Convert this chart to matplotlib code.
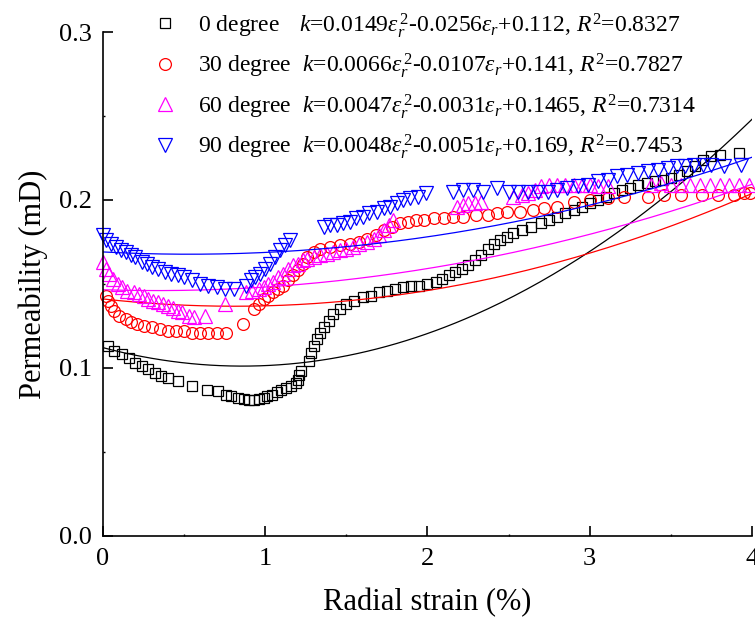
import numpy as np
import matplotlib
matplotlib.use("Agg")
import matplotlib.pyplot as plt

plt.rcParams["font.family"] = ["Liberation Serif", "DejaVu Serif"]
plt.rcParams["mathtext.fontset"] = "custom"
plt.rcParams["mathtext.rm"] = "Liberation Serif"
plt.rcParams["mathtext.it"] = "Liberation Serif:italic"

# 0 degree
x0 = [0.03, 0.07, 0.12, 0.16, 0.20, 0.24, 0.28, 0.32, 0.36, 0.40, 0.46, 0.55, 0.64, 0.71, 0.76, 0.79,
      0.83, 0.87, 0.90, 0.93, 0.96, 0.99, 1.01, 1.04, 1.07, 1.10, 1.13, 1.16, 1.19, 1.20, 1.21, 1.22,
      1.27, 1.28, 1.30, 1.32, 1.34, 1.36, 1.39, 1.42, 1.46, 1.50, 1.55, 1.60, 1.65, 1.70, 1.75, 1.80,
      1.85, 1.90, 1.95, 2.00, 2.05, 2.09, 2.13, 2.17, 2.21, 2.25, 2.29, 2.33, 2.37, 2.41, 2.45, 2.49,
      2.53, 2.58, 2.64, 2.70, 2.75, 2.80, 2.85, 2.90, 2.95, 3.00, 3.05, 3.10, 3.15, 3.20, 3.25, 3.30,
      3.35, 3.40, 3.45, 3.50, 3.55, 3.60, 3.65, 3.70, 3.75, 3.80, 3.92]
y0 = [0.113, 0.110, 0.108, 0.106, 0.103, 0.101, 0.099, 0.097, 0.095, 0.094, 0.092, 0.089, 0.087, 0.086, 0.084, 0.083,
      0.082, 0.0815, 0.081, 0.081, 0.0815, 0.082, 0.083, 0.084, 0.0855, 0.087, 0.088, 0.089, 0.091, 0.093, 0.096, 0.098,
      0.104, 0.109, 0.113, 0.117, 0.121, 0.124, 0.128, 0.132, 0.135, 0.138, 0.140, 0.142, 0.143, 0.145, 0.146, 0.147,
      0.148, 0.149, 0.149, 0.150, 0.151, 0.153, 0.155, 0.157, 0.159, 0.161, 0.164, 0.167, 0.171, 0.174, 0.176, 0.178,
      0.180, 0.182, 0.184, 0.186, 0.188, 0.190, 0.192, 0.194, 0.196, 0.198, 0.200, 0.202, 0.204, 0.206, 0.207, 0.209,
      0.210, 0.211, 0.212, 0.213, 0.215, 0.217, 0.220, 0.224, 0.226, 0.227, 0.228]

# 30 degree
x30 = [0.02, 0.03, 0.05, 0.07, 0.10, 0.14, 0.17, 0.21, 0.25, 0.30, 0.35, 0.40, 0.45, 0.50, 0.55, 0.60,
       0.65, 0.70, 0.76, 0.86, 0.93, 0.96, 0.99, 1.02, 1.05, 1.08, 1.11, 1.14, 1.17, 1.20, 1.23, 1.26,
       1.30, 1.34, 1.40, 1.46, 1.52, 1.58, 1.63, 1.68, 1.73, 1.78, 1.83, 1.88, 1.93, 1.98, 2.04, 2.10,
       2.16, 2.22, 2.30, 2.37, 2.43, 2.49, 2.57, 2.65, 2.72, 2.80, 2.90, 3.00, 3.11, 3.21, 3.36, 3.46,
       3.56, 3.69, 3.79, 3.89, 3.95, 3.99]
y30 = [0.143, 0.140, 0.137, 0.134, 0.131, 0.129, 0.127, 0.126, 0.125, 0.124, 0.123, 0.122, 0.122, 0.122, 0.121, 0.121,
       0.121, 0.121, 0.121, 0.126, 0.135, 0.138, 0.141, 0.143, 0.145, 0.147, 0.149, 0.152, 0.155, 0.158, 0.162, 0.166,
       0.169, 0.171, 0.172, 0.173, 0.174, 0.175, 0.177, 0.179, 0.182, 0.184, 0.186, 0.187, 0.188, 0.188, 0.189, 0.189,
       0.190, 0.190, 0.191, 0.191, 0.192, 0.193, 0.193, 0.194, 0.195, 0.196, 0.199, 0.200, 0.201, 0.202, 0.202, 0.203,
       0.203, 0.203, 0.203, 0.203, 0.204, 0.204]

# 60 degree
x60 = [0.00, 0.02, 0.04, 0.06, 0.09, 0.12, 0.15, 0.19, 0.22, 0.25, 0.28, 0.31, 0.34, 0.37, 0.40, 0.43,
       0.46, 0.49, 0.53, 0.56, 0.63, 0.75, 0.88, 0.92, 0.96, 0.99, 1.02, 1.05, 1.08, 1.11, 1.14, 1.17,
       1.20, 1.23, 1.26, 1.30, 1.34, 1.38, 1.42, 1.46, 1.50, 1.54, 1.58, 1.63, 1.67, 1.70, 1.73, 1.76,
       1.79, 2.18, 2.22, 2.25, 2.29, 2.33, 2.53, 2.58, 2.62, 2.66, 2.70, 2.75, 2.80, 2.85, 2.90, 2.95,
       3.00, 3.05, 3.11, 3.38, 3.44, 3.50, 3.56, 3.62, 3.68, 3.74, 3.80, 3.86, 3.92, 3.98]
y60 = [0.163, 0.159, 0.156, 0.153, 0.150, 0.148, 0.146, 0.145, 0.144, 0.143, 0.141, 0.140, 0.139, 0.138, 0.137, 0.1355,
       0.134, 0.133, 0.131, 0.130, 0.131, 0.138, 0.145, 0.146, 0.147, 0.148, 0.150, 0.151, 0.154, 0.156, 0.159, 0.161,
       0.162, 0.164, 0.165, 0.166, 0.167, 0.168, 0.169, 0.170, 0.171, 0.172, 0.174, 0.175, 0.177, 0.179, 0.182, 0.185,
       0.188, 0.196, 0.197, 0.198, 0.198, 0.199, 0.202, 0.203, 0.204, 0.206, 0.208, 0.209, 0.209, 0.209, 0.209, 0.209,
       0.209, 0.208, 0.208, 0.209, 0.210, 0.209, 0.209, 0.209, 0.209, 0.209, 0.209, 0.209, 0.209, 0.209]

# 90 degree
x90 = [0.00, 0.02, 0.05, 0.08, 0.11, 0.14, 0.17, 0.20, 0.24, 0.27, 0.30, 0.34, 0.38, 0.42, 0.46, 0.50,
       0.55, 0.60, 0.65, 0.70, 0.75, 0.81, 0.88, 0.91, 0.94, 0.97, 1.00, 1.03, 1.06, 1.09, 1.12, 1.15,
       1.36, 1.40, 1.44, 1.48, 1.52, 1.56, 1.60, 1.64, 1.69, 1.73, 1.77, 1.81, 1.85, 1.89, 1.94, 1.99,
       2.16, 2.22, 2.28, 2.34, 2.43, 2.50, 2.56, 2.62, 2.68, 2.74, 2.80, 2.86, 2.93, 2.99, 3.05, 3.11,
       3.17, 3.23, 3.30, 3.36, 3.42, 3.48, 3.54, 3.59, 3.64, 3.70, 3.75, 3.83, 3.93]
y90 = [0.179, 0.176, 0.174, 0.172, 0.170, 0.169, 0.167, 0.166, 0.163, 0.162, 0.160, 0.159, 0.157, 0.156, 0.155, 0.154,
       0.152, 0.150, 0.149, 0.148, 0.147, 0.147, 0.149, 0.152, 0.154, 0.156, 0.159, 0.162, 0.166, 0.170, 0.173, 0.176,
       0.184, 0.185, 0.185, 0.186, 0.187, 0.189, 0.190, 0.192, 0.193, 0.195, 0.196, 0.198, 0.200, 0.201, 0.202, 0.204,
       0.205, 0.206, 0.206, 0.205, 0.207, 0.205, 0.205, 0.205, 0.205, 0.205, 0.206, 0.207, 0.208, 0.209, 0.211, 0.212,
       0.214, 0.215, 0.216, 0.217, 0.218, 0.219, 0.220, 0.220, 0.221, 0.221, 0.221, 0.220, 0.221]

# quadratic fit coefficients (a, b, c) from the legend
fit0 = [0.0149, -0.0256, 0.112]
fit30 = [0.0066, -0.0107, 0.141]
fit60 = [0.0047, -0.0031, 0.1465]
fit90 = [0.0048, -0.0051, 0.169]

labels = [
    r"0 degree$\enspace$  $k$=0.0149$\varepsilon_r^{\,2}$-0.0256$\varepsilon_r$+0.112, $R^2$=0.8327",
    r"30 degree  $k$=0.0066$\varepsilon_r^{\,2}$-0.0107$\varepsilon_r$+0.141, $R^2$=0.7827",
    r"60 degree  $k$=0.0047$\varepsilon_r^{\,2}$-0.0031$\varepsilon_r$+0.1465, $R^2$=0.7314",
    r"90 degree  $k$=0.0048$\varepsilon_r^{\,2}$-0.0051$\varepsilon_r$+0.169, $R^2$=0.7453",
]

series = [
    (x0, y0, fit0, "s", 7, "black"),
    (x30, y30, fit30, "o", 8.5, "red"),
    (x60, y60, fit60, "^", 9.5, "#ff00ff"),
    (x90, y90, fit90, "v", 9.5, "#0000ff"),
]

fig = plt.figure(figsize=(7.55, 6.19), dpi=100)
ax = fig.add_axes([0.1364, 0.1346, 0.8596, 0.8137])

xs = np.linspace(0, 4, 200)
for (x, y, coef, mk, ms, col), lab in zip(series, labels):
    ax.plot(x, y, linestyle="none", marker=mk, markersize=ms, markerfacecolor="none",
            markeredgecolor=col, markeredgewidth=0.9, label=lab, clip_on=False)
    ax.plot(xs, np.polyval(coef, xs), color=col, lw=0.9)

ax.set_xlim(0, 4)
ax.set_ylim(0, 0.3)
ax.set_xticks([0, 1, 2, 3, 4])
ax.set_xticks([0.5, 1.5, 2.5, 3.5], minor=True)
ax.set_yticks([0.0, 0.1, 0.2, 0.3])
ax.set_yticks([0.05, 0.15, 0.25], minor=True)
ax.set_yticklabels(["0.0", "0.1", "0.2", "0.3"])
ax.set_xticklabels(["0", "1", "2", "3", "4"])
for s in ["top", "right"]:
    ax.spines[s].set_visible(False)
for s in ["left", "bottom"]:
    ax.spines[s].set_linewidth(1.2)
ax.tick_params(which="major", direction="in", length=7, width=1.2, labelsize=19)
ax.tick_params(which="minor", direction="in", length=1.5, width=1.0)
ax.tick_params(axis="y", pad=8)
ax.tick_params(axis="x", pad=9)

ax.set_xlabel("Radial strain (%)", fontsize=22, labelpad=13)
ax.set_ylabel("Permeability (mD)", fontsize=22, labelpad=8)

leg = ax.legend(loc="upper left", bbox_to_anchor=(153 / 755, 1 - 11 / 619),
                bbox_transform=fig.transFigure, frameon=False, fontsize=17,
                handlelength=1.0, handletextpad=0.9, borderpad=0, borderaxespad=0,
                labelspacing=0.5, markerscale=1.0)

fig.savefig("out.png", dpi=100)
